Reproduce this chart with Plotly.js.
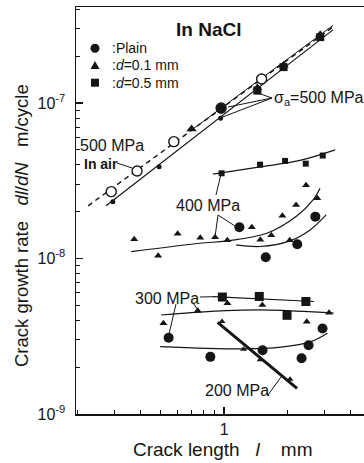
<!DOCTYPE html>
<html><head><meta charset="utf-8">
<script src="https://cdn.plot.ly/plotly-3.0.1.min.js"></script>
<style>html,body{margin:0;padding:0;background:#fff}#chart{width:364px;height:463px}</style>
</head><body><div id="chart"></div>
<script>
// ===== DATA (crack length l [mm], crack growth rate dl/dN [m/cycle]) =====
// 500 MPa in air
const airOpenL = [0.290, 0.385, 0.576, 0.968, 1.509];
const airOpenR = [2.69e-8, 3.65e-8, 5.64e-8, 9.29e-8, 1.427e-7];
const airFitL  = [0.225, 3.30];
const airFitR  = [2.18e-8, 3.08e-7];
const airDotL  = [0.295, 0.490, 0.962];
const airDotR  = [2.32e-8, 3.89e-8, 7.97e-8];
const airDotFitL = [0.274, 3.30];
const airDotFitR = [2.18e-8, 2.95e-7];
// 500 MPa in NaCl
const n500PlainL = [0.968];
const n500PlainR = [9.2e-8];
const n500TriL = [0.70, 1.44, 1.92, 2.87];
const n500TriR = [6.8e-8, 1.25e-7, 1.75e-7, 2.75e-7];
const n500SqL  = [1.44, 1.92, 2.87];
const n500SqR  = [1.20e-7, 1.70e-7, 2.65e-7];
const n500FitL = [0.70, 3.30];
const n500FitR = [6.7e-8, 3.15e-7];
// 400 MPa
const n400SqL = [0.973, 1.484, 1.952, 2.449, 2.951];
const n400SqR = [3.53e-8, 4.01e-8, 4.24e-8, 4.07e-8, 4.59e-8];
const n400SqFitL = [0.886, 1.484, 2.30, 3.38];
const n400SqFitR = [3.49e-8, 3.88e-8, 4.27e-8, 4.99e-8];
const n400TriL = [0.373, 0.485, 0.601, 0.770, 0.906, 1.036, 1.355, 1.487, 1.678, 1.895, 2.055, 2.202, 2.458, 2.781];
const n400TriR = [1.33e-8, 1.04e-8, 1.44e-8, 1.36e-8, 1.37e-8, 1.31e-8, 1.59e-8, 1.32e-8, 1.41e-8, 1.88e-8, 1.31e-8, 2.21e-8, 2.96e-8, 2.44e-8];
const n400TriFitL = [0.361, 0.768, 1.033, 1.597, 2.219, 2.653, 2.865];
const n400TriFitR = [1.106e-8, 1.253e-8, 1.297e-8, 1.452e-8, 1.875e-8, 2.38e-8, 2.83e-8];
const n400PlainL = [1.183, 1.579, 2.231, 2.721];
const n400PlainR = [1.588e-8, 1.019e-8, 1.234e-8, 1.858e-8];
const n400PlainFitL = [1.141, 1.484, 2.062, 2.568, 3.06];
const n400PlainFitR = [1.222e-8, 1.194e-8, 1.297e-8, 1.524e-8, 1.905e-8];
// 300 MPa
const n300SqL = [0.981, 1.471, 1.995, 2.452];
const n300SqR = [5.65e-9, 5.70e-9, 4.31e-9, 5.29e-9];
const n300SqFitL = [0.886, 2.683];
const n300SqFitR = [5.68e-9, 5.29e-9];
const n300TriL = [0.514, 0.749, 1.037, 1.521, 2.476, 3.162];
const n300TriR = [3.83e-9, 4.62e-9, 5.15e-9, 5.02e-9, 3.92e-9, 4.48e-9];
const n300TriFitL = [0.501, 1.022, 1.656, 3.33];
const n300TriFitR = [4.33e-9, 4.62e-9, 4.66e-9, 4.46e-9];
const n300PlainL = [0.544, 0.860, 1.525, 2.339, 2.526, 2.944];
const n300PlainR = [3.09e-9, 2.33e-9, 2.57e-9, 2.28e-9, 2.77e-9, 3.55e-9];
const n300PlainFitL = [0.496, 1.232, 1.868, 2.596, 3.104];
const n300PlainFitR = [2.71e-9, 2.62e-9, 2.69e-9, 2.92e-9, 3.30e-9];
// 200 MPa
const n200L = [0.978, 1.238, 1.484, 2.062];
const n200R = [3.94e-9, 2.61e-9, 2.23e-9, 1.67e-9];
const n200FitL = [0.931, 2.226];
const n200FitR = [3.88e-9, 1.46e-9];
// axis ticks
const yTickVals = [1e-9, 1e-8, 1e-7];
const yTickText = ['10<sup>-9</sup>', '10<sup>-8</sup>', '10<sup>-7</sup>'];
const yMinorVals = [2e-9,3e-9,4e-9,5e-9,6e-9,7e-9,8e-9,9e-9,2e-8,3e-8,4e-8,5e-8,6e-8,7e-8,8e-8,9e-8,2e-7,3e-7,4e-7];
const xTickVals = [1];
const xTickText = ['1'];
const xMinorVals = [0.2,0.3,0.4,0.5,0.6,0.7,0.8,0.9,2,3,4];

// ===== STYLE =====
const INK = '#151515';
const FONT = 'Arial, "Liberation Sans", sans-serif';
const W = 364, H = 463, ML = 76, MR = 0, MT = 7, MB = 49;
const PW = W - ML - MR, PH = H - MT - MB;
const px = x => (x - ML) / PW;
const py = y => (H - MB - y) / PH;

function line(x, y, opt) {
  opt = opt || {};
  return {x, y, type: 'scatter', mode: 'lines', hoverinfo: 'skip', showlegend: false,
    line: Object.assign({color: INK, width: 1.2}, opt)};
}
function pts(x, y, sym, size, opt) {
  return {x, y, type: 'scatter', mode: 'markers', hoverinfo: 'skip', showlegend: false,
    marker: Object.assign({symbol: sym, size: size, color: INK, line: {width: 0}}, opt || {})};
}

const traces = [
  line(airFitL, airFitR, {dash: '5px,4px', width: 1.4}),
  line(airDotFitL, airDotFitR),
  line(n500FitL, n500FitR, {width: 1}),
  pts(airDotL, airDotR, 'circle', 5),
  pts(airOpenL, airOpenR, 'circle', 10, {color: '#fff', line: {color: INK, width: 1.4}}),
  pts(n500TriL, n500TriR, 'triangle-up', 9),
  pts(n500SqL, n500SqR, 'square', 8),
  pts(n500PlainL, n500PlainR, 'circle', 10),

  line(n400SqFitL, n400SqFitR, {shape: 'spline'}),
  pts(n400SqL, n400SqR, 'square', 6),
  line(n400TriFitL, n400TriFitR, {shape: 'spline'}),
  pts(n400TriL, n400TriR, 'triangle-up', 7),
  line(n400PlainFitL, n400PlainFitR, {shape: 'spline'}),
  pts(n400PlainL, n400PlainR, 'circle', 10),

  line(n300SqFitL, n300SqFitR),
  pts(n300SqL, n300SqR, 'square', 9),
  line(n300TriFitL, n300TriFitR, {shape: 'spline'}),
  pts(n300TriL, n300TriR, 'triangle-up', 7),
  line(n300PlainFitL, n300PlainFitR, {shape: 'spline'}),
  pts(n300PlainL, n300PlainR, 'circle', 10),

  line(n200FitL, n200FitR, {width: 3}),
  pts(n200L, n200R, 'triangle-up', 6)
];

function ann(x, y, text, o) {
  return Object.assign({xref: 'paper', yref: 'paper', x: px(x), y: py(y), text: text, showarrow: false,
    xanchor: 'center', yanchor: 'middle', font: {family: FONT, size: 16, color: INK}}, o || {});
}
function seg(x0, y0, x1, y1, w) {
  return {type: 'line', xref: 'paper', yref: 'paper', x0: px(x0), y0: py(y0), x1: px(x1), y1: py(y1),
    line: {color: INK, width: w || 1}};
}

const annotations = [
  ann(208, 30, '<b>In NaCl</b>', {font: {family: FONT, size: 19, color: INK}}),
  ann(110, 48, ':Plain', {xanchor: 'left', font: {family: FONT, size: 14, color: INK}}),
  ann(110, 65, ':<i>d</i>=0.1 mm', {xanchor: 'left', font: {family: FONT, size: 14, color: INK}}),
  ann(110, 83, ':<i>d</i>=0.5 mm', {xanchor: 'left', font: {family: FONT, size: 14, color: INK}}),
  ann(112, 145, '500 MPa'),
  ann(101, 164, '<b>In air</b>', {font: {family: FONT, size: 14, color: INK}}),
  ann(272, 98, '\u03c3<sub>a</sub>=500 MPa', {xanchor: 'left'}),
  ann(208, 205, '400 MPa'),
  ann(167, 298, '300 MPa'),
  ann(237, 390, '200 MPa'),
  ann(223, 449, 'Crack length\u00a0\u00a0\u00a0<i>l</i>\u00a0\u00a0\u00a0\u00a0mm', {font: {family: FONT, size: 19, color: INK}}),
  ann(22, 226, 'Crack growth rate\u00a0\u00a0\u00a0<i>dl</i>/<i>dN</i>\u00a0\u00a0\u00a0m/cycle', {textangle: -90, font: {family: FONT, size: 18.5, color: INK}})
];

const shapes = [
  // legend symbols
  {type: 'circle', xref: 'paper', yref: 'paper', x0: px(90.5), x1: px(99.5), y0: py(52.8), y1: py(43.8), fillcolor: INK, line: {width: 0}},
  {type: 'path', xref: 'paper', yref: 'paper', path: `M ${px(90.5)} ${py(69)} L ${px(99.5)} ${py(69)} L ${px(95)} ${py(61)} Z`, fillcolor: INK, line: {width: 0}},
  {type: 'rect', xref: 'paper', yref: 'paper', x0: px(91), x1: px(99), y0: py(86.7), y1: py(78.7), fillcolor: INK, line: {width: 0}},
  // leader lines
  seg(117, 163, 132, 168),
  seg(272, 98, 221.5, 117.5), seg(272, 98, 228, 107), seg(272, 98, 255, 92),
  seg(221, 174, 216, 195), seg(218, 215, 215, 237), seg(218, 215, 235, 226),
  seg(200, 297, 214, 296.7), seg(193, 303, 198, 310), seg(176, 304, 169, 334),
  seg(268, 395, 281, 377)
];

const layout = {
  width: W, height: H,
  margin: {l: ML, r: MR, t: MT, b: MB, pad: 0},
  paper_bgcolor: '#fff', plot_bgcolor: '#fff',
  showlegend: false,
  font: {family: FONT, color: INK, size: 16},
  xaxis: {type: 'log', range: [Math.log10(0.197), Math.log10(4.64)],
    showgrid: false, zeroline: false, showline: true, linecolor: INK, linewidth: 1.5, mirror: true,
    ticks: 'inside', ticklen: 7, tickwidth: 1.2, tickcolor: INK,
    tickmode: 'array', tickvals: xTickVals, ticktext: xTickText,
    tickfont: {family: FONT, size: 16, color: INK},
    minor: {tickmode: 'array', tickvals: xMinorVals, ticks: 'inside', ticklen: 4, tickwidth: 1, tickcolor: INK, showgrid: false}},
  yaxis: {type: 'log', range: [-9, -6.383],
    showgrid: false, zeroline: false, showline: true, linecolor: INK, linewidth: 1.5, mirror: false,
    ticks: 'inside', ticklen: 7, tickwidth: 1.2, tickcolor: INK,
    tickmode: 'array', tickvals: yTickVals, ticktext: yTickText,
    tickfont: {family: FONT, size: 16, color: INK}, ticklabelstandoff: 6,
    minor: {tickmode: 'array', tickvals: yMinorVals, ticks: 'inside', ticklen: 4, tickwidth: 1, tickcolor: INK, showgrid: false}},
  annotations: annotations,
  shapes: shapes
};

Plotly.newPlot('chart', traces, layout, {staticPlot: true, displayModeBar: false});
</script>
</body></html>
